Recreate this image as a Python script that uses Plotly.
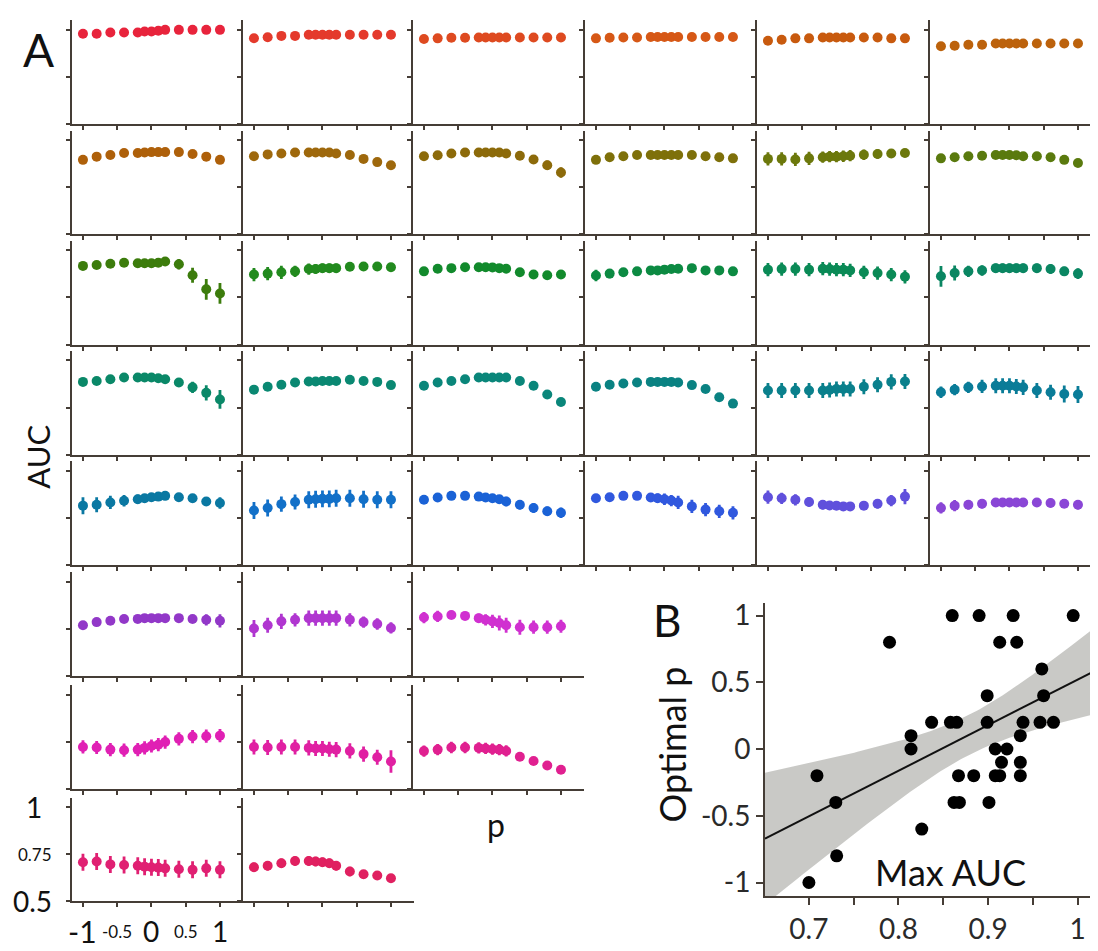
import numpy as np
import plotly.graph_objects as go

# ---------------- data ----------------
P_VALUES = [-1, -0.8, -0.6, -0.4, -0.2, -0.1, 0, 0.1, 0.2, 0.4, 0.6, 0.8, 1]

AUC_ROW1 = [
    [0.979, 0.979, 0.986, 0.986, 0.986, 0.991, 0.991, 0.995, 1.0, 1.0, 1.0, 1.0, 1.0],
    [0.956, 0.961, 0.968, 0.968, 0.974, 0.974, 0.974, 0.974, 0.974, 0.974, 0.974, 0.974, 0.974],
    [0.952, 0.955, 0.958, 0.958, 0.960, 0.960, 0.960, 0.960, 0.960, 0.960, 0.960, 0.960, 0.960],
    [0.955, 0.958, 0.960, 0.960, 0.962, 0.962, 0.962, 0.962, 0.962, 0.962, 0.962, 0.962, 0.962],
    [0.942, 0.948, 0.955, 0.955, 0.960, 0.960, 0.960, 0.960, 0.960, 0.960, 0.960, 0.955, 0.955],
    [0.913, 0.916, 0.921, 0.921, 0.928, 0.928, 0.928, 0.928, 0.928, 0.928, 0.928, 0.928, 0.928],
]
AUC_ROW2 = [
    [0.895, 0.912, 0.921, 0.931, 0.931, 0.934, 0.936, 0.936, 0.936, 0.936, 0.926, 0.912, 0.895],
    [0.914, 0.924, 0.929, 0.934, 0.934, 0.934, 0.934, 0.934, 0.929, 0.921, 0.900, 0.883, 0.866],
    [0.914, 0.919, 0.929, 0.934, 0.934, 0.934, 0.934, 0.934, 0.929, 0.917, 0.897, 0.866, 0.828],
    [0.895, 0.909, 0.914, 0.921, 0.921, 0.921, 0.921, 0.921, 0.921, 0.921, 0.914, 0.909, 0.903],
    [0.900, 0.900, 0.897, 0.903, 0.909, 0.912, 0.912, 0.914, 0.917, 0.922, 0.926, 0.929, 0.931],
    [0.903, 0.909, 0.914, 0.917, 0.921, 0.921, 0.921, 0.919, 0.914, 0.914, 0.909, 0.895, 0.878],
]
AUC_ROW3 = [
    [0.917, 0.922, 0.928, 0.934, 0.931, 0.931, 0.931, 0.934, 0.940, 0.926, 0.867, 0.793, 0.771],
    [0.871, 0.876, 0.883, 0.888, 0.900, 0.900, 0.905, 0.905, 0.905, 0.912, 0.914, 0.914, 0.910],
    [0.888, 0.902, 0.905, 0.910, 0.910, 0.910, 0.909, 0.905, 0.902, 0.883, 0.871, 0.867, 0.871],
    [0.866, 0.876, 0.883, 0.888, 0.893, 0.893, 0.897, 0.900, 0.902, 0.905, 0.893, 0.893, 0.888],
    [0.897, 0.900, 0.900, 0.897, 0.902, 0.900, 0.897, 0.897, 0.893, 0.883, 0.879, 0.871, 0.859],
    [0.862, 0.879, 0.888, 0.893, 0.905, 0.905, 0.905, 0.905, 0.905, 0.905, 0.900, 0.888, 0.876],
]
AUC_ROW4 = [
    [0.886, 0.891, 0.900, 0.909, 0.909, 0.909, 0.909, 0.905, 0.900, 0.883, 0.857, 0.828, 0.793],
    [0.845, 0.860, 0.871, 0.883, 0.888, 0.888, 0.891, 0.891, 0.891, 0.897, 0.891, 0.886, 0.869],
    [0.866, 0.883, 0.891, 0.900, 0.909, 0.909, 0.909, 0.909, 0.909, 0.891, 0.866, 0.819, 0.779],
    [0.860, 0.871, 0.878, 0.883, 0.886, 0.886, 0.886, 0.886, 0.883, 0.869, 0.848, 0.805, 0.771],
    [0.840, 0.840, 0.840, 0.840, 0.840, 0.843, 0.848, 0.848, 0.848, 0.860, 0.871, 0.886, 0.888],
    [0.831, 0.845, 0.857, 0.862, 0.866, 0.866, 0.866, 0.862, 0.857, 0.840, 0.831, 0.822, 0.819],
]
AUC_ROW5 = [
    [0.814, 0.819, 0.831, 0.840, 0.848, 0.853, 0.859, 0.862, 0.866, 0.859, 0.853, 0.836, 0.828],
    [0.788, 0.802, 0.822, 0.833, 0.845, 0.848, 0.850, 0.850, 0.853, 0.853, 0.848, 0.845, 0.845],
    [0.845, 0.857, 0.866, 0.866, 0.862, 0.857, 0.853, 0.848, 0.836, 0.819, 0.802, 0.784, 0.776],
    [0.853, 0.859, 0.866, 0.866, 0.857, 0.853, 0.848, 0.841, 0.831, 0.810, 0.793, 0.784, 0.776],
    [0.859, 0.853, 0.845, 0.833, 0.819, 0.815, 0.814, 0.810, 0.810, 0.814, 0.824, 0.841, 0.862],
    [0.802, 0.814, 0.819, 0.824, 0.831, 0.831, 0.831, 0.831, 0.831, 0.831, 0.828, 0.824, 0.819],
]
AUC_ROW6 = [
    [0.769, 0.786, 0.793, 0.802, 0.803, 0.807, 0.807, 0.807, 0.807, 0.807, 0.802, 0.798, 0.793],
    [0.752, 0.769, 0.790, 0.798, 0.807, 0.807, 0.807, 0.807, 0.807, 0.798, 0.786, 0.776, 0.755],
    [0.810, 0.816, 0.824, 0.819, 0.807, 0.798, 0.790, 0.781, 0.769, 0.759, 0.759, 0.759, 0.764],
]
AUC_ROW7 = [
    [0.724, 0.721, 0.710, 0.707, 0.710, 0.719, 0.729, 0.736, 0.750, 0.767, 0.779, 0.781, 0.784],
    [0.724, 0.721, 0.724, 0.724, 0.719, 0.716, 0.716, 0.712, 0.710, 0.703, 0.686, 0.669, 0.647],
    [0.702, 0.710, 0.721, 0.721, 0.719, 0.716, 0.712, 0.710, 0.703, 0.672, 0.650, 0.626, 0.603],
]
AUC_ROW8 = [
    [0.707, 0.711, 0.696, 0.693, 0.689, 0.684, 0.681, 0.679, 0.675, 0.670, 0.667, 0.675, 0.667],
    [0.681, 0.689, 0.702, 0.714, 0.714, 0.711, 0.707, 0.702, 0.689, 0.658, 0.644, 0.637, 0.623],
]

ERR_ROW1 = [[0.008] * 13 for _ in range(6)]
ERR_ROW2 = [
    [0.012] * 13,
    [0.012] * 10 + [0.015, 0.020, 0.022],
    [0.012] * 10 + [0.018, 0.025, 0.028],
    [0.012] * 13,
    [0.035, 0.035, 0.035, 0.035, 0.030, 0.030, 0.030, 0.030, 0.030, 0.028, 0.025, 0.022, 0.022],
    [0.015] * 13,
]
ERR_ROW3 = [
    [0.012] * 9 + [0.028, 0.040, 0.055, 0.055],
    [0.035, 0.035, 0.035, 0.030, 0.030, 0.025, 0.025, 0.025, 0.025, 0.022, 0.020, 0.020, 0.020],
    [0.012] * 13,
    [0.030, 0.025, 0.020, 0.018, 0.015, 0.015, 0.015, 0.015, 0.015, 0.015, 0.015, 0.015, 0.015],
    [0.035] * 13,
    [0.055, 0.040, 0.030, 0.028, 0.025, 0.025, 0.025, 0.025, 0.025, 0.025, 0.025, 0.025, 0.028],
]
ERR_ROW4 = [
    [0.012] * 9 + [0.020, 0.030, 0.040, 0.050],
    [0.022, 0.022, 0.018, 0.015, 0.012, 0.012, 0.012, 0.012, 0.012, 0.012, 0.012, 0.012, 0.015],
    [0.012] * 11 + [0.018, 0.022],
    [0.012] * 13,
    [0.040] * 13,
    [0.030, 0.030, 0.030, 0.035, 0.040, 0.040, 0.040, 0.040, 0.040, 0.040, 0.040, 0.045, 0.045],
]
ERR_ROW5 = [
    [0.045, 0.040, 0.035, 0.030, 0.025, 0.022, 0.020, 0.015, 0.015, 0.015, 0.015, 0.020, 0.030],
    [0.045, 0.045, 0.040, 0.040, 0.045, 0.045, 0.045, 0.045, 0.045, 0.045, 0.045, 0.045, 0.045],
    [0.020, 0.020, 0.020, 0.020, 0.020, 0.022, 0.022, 0.022, 0.025, 0.025, 0.025, 0.025, 0.028],
    [0.012, 0.012, 0.012, 0.012, 0.020, 0.025, 0.030, 0.030, 0.035, 0.035, 0.035, 0.035, 0.035],
    [0.035, 0.030, 0.030, 0.025, 0.025, 0.022, 0.022, 0.022, 0.022, 0.022, 0.025, 0.030, 0.040],
    [0.030, 0.030, 0.025, 0.025, 0.022, 0.022, 0.022, 0.022, 0.022, 0.022, 0.022, 0.022, 0.025],
]
ERR_ROW6 = [
    [0.020] * 11 + [0.030, 0.035],
    [0.045, 0.040, 0.040, 0.035, 0.040, 0.040, 0.040, 0.040, 0.040, 0.035, 0.030, 0.030, 0.030],
    [0.030, 0.030, 0.022, 0.022, 0.025, 0.030, 0.035, 0.040, 0.040, 0.040, 0.035, 0.035, 0.035],
]
ERR_ROW7 = [
    [0.035] * 13,
    [0.040] * 12 + [0.060],
    [0.030] * 9 + [0.015] * 4,
]
ERR_ROW8 = [
    [0.045] * 13,
    [0.025] * 10 + [0.020, 0.020, 0.020],
]

# Panel B: maximum AUC vs optimal p, one point per panel
MAX_AUC = [0.700, 0.709, 0.730, 0.731, 0.790, 0.814, 0.814, 0.826, 0.837, 0.858,
           0.865, 0.860, 0.862, 0.868, 0.867, 0.884, 0.890, 0.899, 0.899, 0.901,
           0.908, 0.913, 0.908, 0.921, 0.915, 0.913, 0.928, 0.932, 0.936, 0.936,
           0.936, 0.939, 0.960, 0.962, 0.958, 0.973, 0.995]
OPTIMAL_P = [-1.0, -0.2, -0.4, -0.8, 0.8, 0.1, 0.0, -0.6, 0.2, 0.2,
             0.2, 1.0, -0.4, -0.4, -0.2, -0.2, 1.0, 0.4, 0.2, -0.4,
             -0.2, -0.2, 0.0, 0.0, -0.1, 0.8, 1.0, 0.8, 0.1, -0.1,
             -0.2, 0.2, 0.6, 0.4, 0.2, 0.2, 1.0]

X_TICKS_A = [-1, -0.5, 0, 0.5, 1]
X_TICK_TEXT_A = ["-1", "-0.5", "0", "0.5", "1"]
Y_TICKS_A = [0.5, 0.75, 1]
Y_TICK_TEXT_A = ["0.5", "0.75", "1"]
X_TICKS_B = [0.7, 0.8, 0.9, 1.0]
X_TICK_TEXT_B = ["0.7", "0.8", "0.9", "1"]
Y_TICKS_B = [-1, -0.5, 0, 0.5, 1]
Y_TICK_TEXT_B = ["-1", "-0.5", "0", "0.5", "1"]

# ---------------- style / layout ----------------
COLORS = [
    "#e8243c", "#e43a2c", "#de4a20", "#d65816", "#c85a0e", "#bc620c",
    "#ae600a", "#9e680c", "#8c6a0a", "#7e700a", "#6c780c", "#5a7a0e",
    "#3c7c0c", "#228a1e", "#128a2c", "#0c8a42", "#0a8a56", "#0a8662",
    "#0a8868", "#0a8872", "#0a867a", "#0a8282", "#0a808c", "#0a7c98",
    "#0a78a2", "#1270c8", "#1a62d6", "#3058de", "#6050dc", "#8a46d6",
    "#9238c8", "#b036d0", "#d030d0",
    "#e020b4", "#e020a2", "#e02090",
    "#e02072", "#e02060",
]
FONT = "Lato, 'Open Sans', sans-serif"
AXIS_COLOR = "#453d36"
PAGE_W, PAGE_H = 1098, 951
BODY_MARGIN = 8          # default page margin around the plot div
W, H = PAGE_W - BODY_MARGIN, PAGE_H - BODY_MARGIN


def fx(px):
    return (px - BODY_MARGIN) / W


def fy(py):
    return 1 - (py - BODY_MARGIN) / H


COL_LEFT = [72, 243, 413, 585, 757, 930]
ROW_AXIS = [120, 231, 342, 453, 564, 676, 790, 903]
PANEL_W = 171
PANEL_H = 104.5
PX_PER_UNIT = 68.5
X_START = -1.16

AUC_ROWS = [AUC_ROW1, AUC_ROW2, AUC_ROW3, AUC_ROW4, AUC_ROW5, AUC_ROW6, AUC_ROW7, AUC_ROW8]
ERR_ROWS = [ERR_ROW1, ERR_ROW2, ERR_ROW3, ERR_ROW4, ERR_ROW5, ERR_ROW6, ERR_ROW7, ERR_ROW8]

fig = go.Figure()
layout = {}
idx = 0
for r, (row_vals, row_errs) in enumerate(zip(AUC_ROWS, ERR_ROWS)):
    for c, (vals, errs) in enumerate(zip(row_vals, row_errs)):
        col = COLORS[idx]
        idx += 1
        xs = "x" if idx == 1 else f"x{idx}"
        ys = "y" if idx == 1 else f"y{idx}"
        left = COL_LEFT[c]
        right = min(left + PANEL_W, PAGE_W - 3)
        bottom = ROW_AXIS[r]
        top = bottom - PANEL_H
        layout["xaxis" if idx == 1 else f"xaxis{idx}"] = dict(
            domain=[fx(left), fx(right)], anchor=ys,
            range=[X_START, X_START + (right - left) / PX_PER_UNIT],
            tickvals=X_TICKS_A, ticks="outside", ticklen=4, tickwidth=1.5,
            tickcolor=AXIS_COLOR, showticklabels=False, showline=True,
            linecolor=AXIS_COLOR, linewidth=2, showgrid=False, zeroline=False,
        )
        layout["yaxis" if idx == 1 else f"yaxis{idx}"] = dict(
            domain=[fy(bottom), fy(top)], anchor=xs,
            range=[0.5, 1.05], tickvals=Y_TICKS_A, ticks="outside", ticklen=4,
            tickwidth=1.5, tickcolor=AXIS_COLOR, showticklabels=False,
            showline=True, linecolor=AXIS_COLOR, linewidth=2, showgrid=False,
            zeroline=False,
        )
        fig.add_trace(go.Scatter(
            x=P_VALUES, y=vals, mode="markers", xaxis=xs, yaxis=ys,
            marker=dict(color=col, size=10, line=dict(width=0)),
            error_y=dict(type="data", array=errs, visible=True, color=col,
                         thickness=2.8, width=0),
            showlegend=False, hoverinfo="skip",
        ))

LABEL_PANEL = 37  # bottom-left panel carries the tick labels

# ---------------- panel B ----------------
b = idx + 1
bx, by = f"x{b}", f"y{b}"
B_XRANGE = [0.651, 1.016]
layout[f"xaxis{b}"] = dict(
    domain=[fx(765), fx(1092)], anchor=by, range=B_XRANGE,
    tickvals=X_TICKS_B, ticktext=X_TICK_TEXT_B, ticks="outside", ticklen=7,
    tickwidth=1.5, tickcolor=AXIS_COLOR,
    minor=dict(tickvals=[0.75, 0.85, 0.95], ticks="outside", ticklen=7,
               tickwidth=1.5, tickcolor=AXIS_COLOR),
    tickfont=dict(size=28, color="#2a2a2a", family=FONT),
    showline=True, linecolor=AXIS_COLOR, linewidth=2, showgrid=False,
    zeroline=False,
)
layout[f"yaxis{b}"] = dict(
    domain=[fy(898), fy(602)], anchor=bx, range=[-1.104, 1.097],
    tickvals=Y_TICKS_B, ticktext=Y_TICK_TEXT_B, ticks="outside", ticklen=7,
    tickwidth=1.5, tickcolor=AXIS_COLOR,
    tickfont=dict(size=28, color="#2a2a2a", family=FONT),
    showline=True, linecolor=AXIS_COLOR, linewidth=2, showgrid=False,
    zeroline=False,
)

# OLS fit with 95% confidence band
xa = np.array(MAX_AUC)
ya = np.array(OPTIMAL_P)
n = len(xa)
slope, intercept = np.polyfit(xa, ya, 1)
resid = ya - (slope * xa + intercept)
s = np.sqrt(np.sum(resid ** 2) / (n - 2))
sxx = np.sum((xa - xa.mean()) ** 2)
T_CRIT = 2.03
xf = np.linspace(B_XRANGE[0], B_XRANGE[1], 100)
yf = slope * xf + intercept
half = T_CRIT * s * np.sqrt(1 / n + (xf - xa.mean()) ** 2 / sxx)

fig.add_trace(go.Scatter(
    x=np.concatenate([xf, xf[::-1]]), y=np.concatenate([yf + half, (yf - half)[::-1]]),
    fill="toself", fillcolor="rgba(192,192,188,0.85)", line=dict(width=0),
    mode="lines", xaxis=bx, yaxis=by, showlegend=False, hoverinfo="skip",
))
fig.add_trace(go.Scatter(
    x=xf, y=yf, mode="lines", line=dict(color="#111111", width=2),
    xaxis=bx, yaxis=by, showlegend=False, hoverinfo="skip",
))
fig.add_trace(go.Scatter(
    x=MAX_AUC, y=OPTIMAL_P, mode="markers",
    marker=dict(color="#000000", size=13), xaxis=bx, yaxis=by,
    showlegend=False, hoverinfo="skip",
))

# ---------------- annotations ----------------
ann = []


def txt(text, x, y, size, **kw):
    d = dict(text=text, x=x, y=y, showarrow=False, xanchor="center",
             yanchor="middle", xref="paper", yref="paper",
             font=dict(size=size, color="#111111", family=FONT))
    d.update(kw)
    return d


ann.append(txt("A", fx(38), fy(45), 46))
ann.append(txt("AUC", fx(38), fy(455), 31, textangle=-90))
ann.append(txt("p", fx(496), fy(826), 32))
ann.append(txt("B", fx(667), fy(620), 44))
ann.append(txt("Optimal p", fx(672), fy(745), 36, textangle=-90))
ann.append(txt("Max AUC", fx(950), fy(873), 36))

# tick labels of the bottom-left panel (mixed sizes)
x_sizes = [30, 17, 28, 17, 28]
for v, t, sz in zip(X_TICKS_A, X_TICK_TEXT_A, x_sizes):
    ann.append(txt(t, v, fy(933), sz, xref=f"x{LABEL_PANEL}", yref="paper"))
y_sizes = [28, 17, 28]
y_right = [54, 54, 44]
for v, t, sz, xr in zip(Y_TICKS_A, Y_TICK_TEXT_A, y_sizes, y_right):
    ann.append(txt(t, fx(xr), v, sz, xref="paper", yref=f"y{LABEL_PANEL}",
                   xanchor="right"))

fig.update_layout(
    width=W, height=H, margin=dict(l=0, r=0, t=0, b=0),
    paper_bgcolor="white", plot_bgcolor="white",
    font=dict(family=FONT), annotations=ann, **layout,
)

fig.write_html("out.html")
